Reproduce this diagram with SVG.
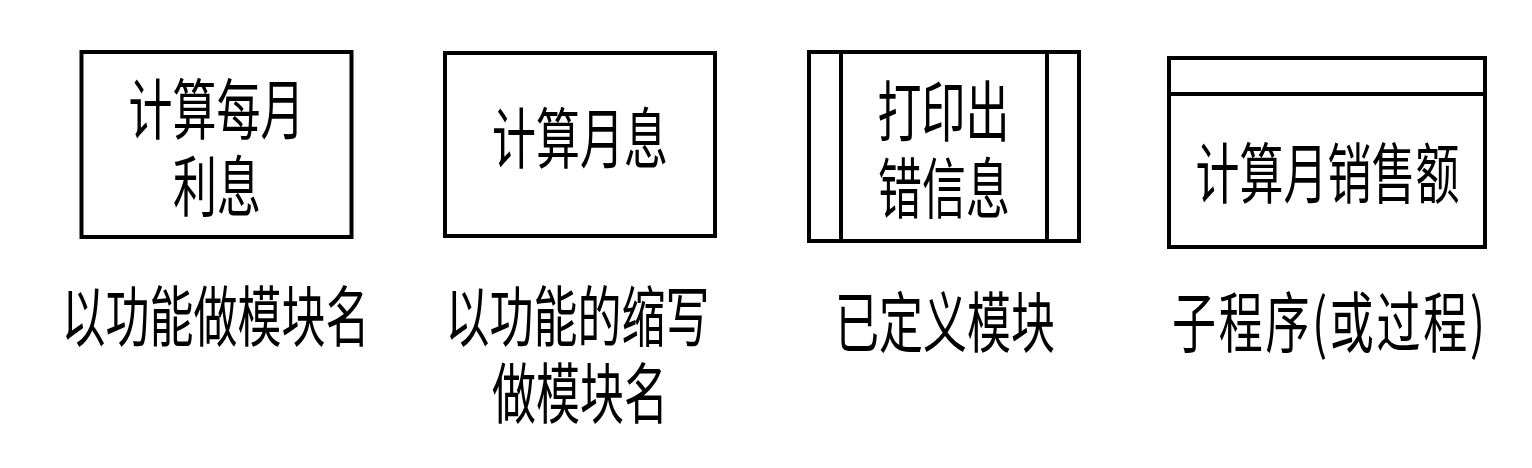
<svg xmlns="http://www.w3.org/2000/svg" width="1532" height="468" viewBox="0 0 1532 468">
<style>
.box{fill:#fff;stroke:#000;stroke-width:4}
.ln{stroke:#000;stroke-width:4;fill:none}
.t{font-family:"Noto Sans CJK SC","Noto Sans CJK TC",sans-serif;font-size:44px;fill:#000;text-anchor:middle}
</style>
<rect width="1532" height="468" fill="#fff"/>
<g id="connectors"/>
<g id="node-1">
<rect class="box" x="81.5" y="52" width="270" height="185"/>
<text class="t" transform="translate(216.5,133.5) scale(1,1.5)">计算每月</text>
<text class="t" transform="translate(217,210.5) scale(1,1.5)">利息</text>
<text class="t" transform="translate(215.5,340.5) scale(1,1.5)">以功能做模块名</text>
</g>
<g id="node-2">
<rect class="box" x="445" y="53" width="270" height="183"/>
<text class="t" transform="translate(580,162.5) scale(1,1.5)">计算月息</text>
<text class="t" transform="translate(577.5,340.5) scale(1,1.5)">以功能的缩写</text>
<text class="t" transform="translate(580,417.5) scale(1,1.5)">做模块名</text>
</g>
<g id="node-3">
<rect class="box" x="809" y="52" width="270" height="189"/>
<line class="ln" x1="841" y1="52" x2="841" y2="241"/>
<line class="ln" x1="1047" y1="52" x2="1047" y2="241"/>
<text class="t" transform="translate(943.5,135.5) scale(1,1.5)">打印出</text>
<text class="t" transform="translate(944,212.5) scale(1,1.5)">错信息</text>
<text class="t" transform="translate(945,347) scale(1,1.5)">已定义模块</text>
</g>
<g id="node-4">
<rect class="box" x="1169" y="58" width="316" height="189"/>
<line class="ln" x1="1169" y1="94" x2="1485" y2="94"/>
<text class="t" transform="translate(1327.5,197.5) scale(1,1.5)">计算月销售额</text>
<text class="t" transform="translate(1328.5,347) scale(1,1.5)" textLength="313" lengthAdjust="spacing">子程序(或过程)</text>
</g>
</svg>
